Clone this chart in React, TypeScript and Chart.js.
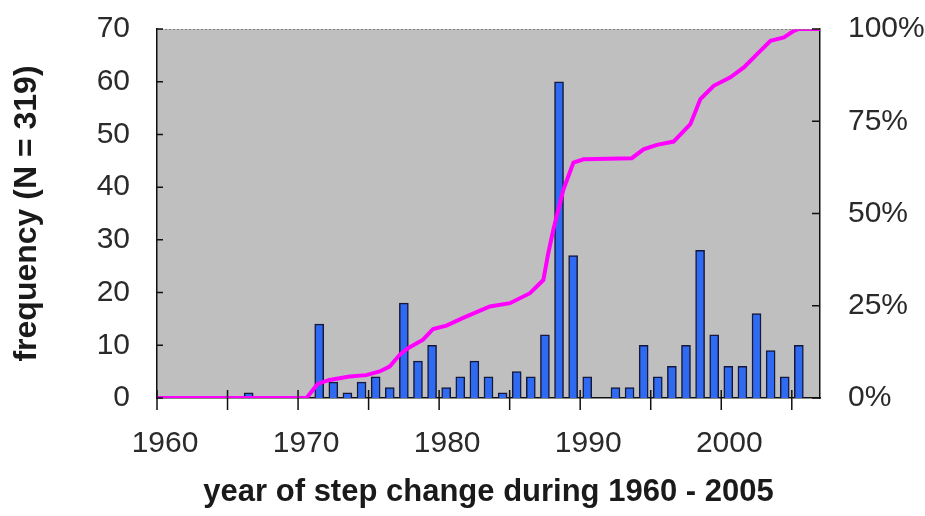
import React, { useEffect, useRef } from 'react';
import { Chart, registerables } from 'chart.js';

Chart.register(...registerables);

// Bar series: number of step changes per year
const years = [1966, 1971, 1972, 1973, 1974, 1975, 1976, 1977, 1978, 1979, 1980, 1981, 1982, 1983, 1984, 1985, 1986, 1987, 1988, 1989, 1990, 1992, 1993, 1994, 1995, 1996, 1997, 1998, 1999, 2000, 2001, 2002, 2003, 2004, 2005];
const counts = [1, 14, 3, 1, 3, 4, 2, 18, 7, 10, 2, 4, 7, 4, 1, 5, 4, 12, 60, 27, 4, 2, 2, 10, 4, 6, 10, 28, 12, 6, 6, 16, 9, 4, 10];

// Cumulative percentage line
const cumYears = [1960, 1970.6, 1971.39, 1972.22, 1973.65, 1974.83, 1975.78, 1976.49, 1977.2, 1977.79, 1978.86, 1979.57, 1980.52, 1981.7, 1983.6, 1985.02, 1986.44, 1987.39, 1987.74, 1988.1, 1988.45, 1988.81, 1989.16, 1989.52, 1990.23, 1993.66, 1994.49, 1995.44, 1996.62, 1997.81, 1998.52, 1999.46, 2000.65, 2001.6, 2002.54, 2003.49, 2004.44, 2005.15, 2005.5, 2007];
const cumPercent = [0, 0, 3.8, 4.9, 5.8, 6.2, 7.2, 8.5, 11.7, 13.5, 15.8, 18.7, 19.6, 21.7, 24.8, 25.7, 28.4, 32, 39.3, 45.7, 51, 56.5, 60.1, 63.8, 64.7, 65, 67.4, 68.6, 69.5, 74.2, 81, 84.6, 86.9, 89.6, 93.2, 96.8, 97.7, 99.5, 100, 100];

const xTicks = [1960, 1965, 1970, 1975, 1980, 1985, 1990, 1995, 2000, 2005];
const xLabels = [1960, 1970, 1980, 1990, 2000];
const freqTicks = [0, 10, 20, 30, 40, 50, 60, 70];
const pctTicks = [0, 25, 50, 75, 100];

const xTitle = 'year of step change during 1960 - 2005';
const yTitle = 'frequency (N = 319)';

const W = 925;
const H = 516;
const FONT = '"Liberation Sans", Arial, sans-serif';

const framePlugin = {
  id: 'frame',
  beforeDraw(chart: any) {
    const { ctx, chartArea } = chart;
    ctx.save();
    ctx.fillStyle = '#BFBFBF';
    ctx.fillRect(chartArea.left, chartArea.top, chartArea.right - chartArea.left, chartArea.bottom - chartArea.top);
    ctx.restore();
  },
  afterDraw(chart: any) {
    const { ctx, chartArea, scales } = chart;
    const { left, right, top, bottom } = chartArea;
    ctx.save();
    ctx.strokeStyle = '#8a8080';
    ctx.lineWidth = 1;
    ctx.setLineDash([2, 2]);
    ctx.beginPath();
    ctx.moveTo(left, top + 0.5);
    ctx.lineTo(right, top + 0.5);
    ctx.stroke();
    ctx.setLineDash([]);
    ctx.strokeStyle = '#111';
    ctx.lineWidth = 1.5;
    ctx.beginPath();
    for (const v of freqTicks) {
      const y = scales.y.getPixelForValue(v);
      ctx.moveTo(left, y);
      ctx.lineTo(left + 6, y);
    }
    for (const v of pctTicks) {
      const y = scales.y1.getPixelForValue(v);
      ctx.moveTo(right, y);
      ctx.lineTo(right - 8, y);
    }
    for (const v of xTicks) {
      const x = scales.x.getPixelForValue(v);
      ctx.moveTo(x, bottom - 8);
      ctx.lineTo(x, bottom + 12);
    }
    ctx.stroke();
    ctx.restore();
  },
};

const fitVertical = (width: number) => (s: any) => {
  s.width = width;
  s.paddingTop = 0;
  s.paddingBottom = 0;
};

export default function App() {
  const ref = useRef<HTMLCanvasElement | null>(null);

  useEffect(() => {
    if (!ref.current) return;
    const chart = new Chart(ref.current, {
      type: 'bar',
      data: {
        datasets: [
          {
            type: 'line',
            label: 'cumulative',
            data: cumYears.map((x, i) => ({ x, y: cumPercent[i] })),
            borderColor: '#FF00FF',
            borderWidth: 4,
            pointRadius: 0,
            tension: 0,
            fill: false,
            xAxisID: 'x',
            yAxisID: 'y1',
            order: 0,
          } as any,
          {
            type: 'bar',
            label: 'frequency',
            data: years.map((yr, i) => ({ x: yr + 0.5, y: counts[i] })),
            backgroundColor: '#2F6BF2',
            borderColor: '#15183a',
            borderWidth: 1.5,
            barThickness: 9,
            xAxisID: 'x',
            yAxisID: 'y',
            order: 1,
          } as any,
        ],
      },
      plugins: [framePlugin],
      options: {
        animation: false,
        responsive: false,
        maintainAspectRatio: false,
        layout: { padding: { top: 29, left: 0, right: 0, bottom: 0 } },
        plugins: { legend: { display: false }, tooltip: { enabled: false } },
        scales: {
          x: {
            type: 'linear',
            offset: false,
            min: 1960,
            max: 2007,
            afterBuildTicks: (s: any) => {
              s.ticks = xTicks.map((v) => ({ value: v }));
            },
            afterFit: (s: any) => {
              s.height = H - 398;
              s.paddingLeft = 0;
              s.paddingRight = 0;
            },
            grid: { display: false, drawTicks: false, offset: false },
            border: { display: true, color: '#111', width: 1.5 },
            ticks: {
              autoSkip: false,
              maxRotation: 0,
              padding: 28,
              labelOffset: 8,
              color: '#2a2a2a',
              font: { family: FONT, size: 30 },
              callback: (v: any) => (xLabels.includes(Number(v)) ? String(v) : ''),
            },
            title: {
              display: true,
              text: xTitle,
              color: '#1a1a1a',
              font: { family: FONT, size: 31, weight: 'bold' },
              padding: { top: 0, bottom: 5 },
            },
          },
          y: {
            type: 'linear',
            position: 'left',
            min: 0,
            max: 70,
            afterBuildTicks: (s: any) => {
              s.ticks = freqTicks.map((v) => ({ value: v }));
            },
            afterFit: fitVertical(157),
            grid: { display: false, drawTicks: false },
            border: { display: true, color: '#111', width: 1.5 },
            ticks: {
              padding: 27,
              color: '#2a2a2a',
              font: { family: FONT, size: 30 },
            },
            title: {
              display: true,
              text: yTitle,
              color: '#1a1a1a',
              font: { family: FONT, size: 32, weight: 'bold' },
              padding: { top: 8, bottom: 0 },
            },
          },
          y1: {
            type: 'linear',
            position: 'right',
            min: 0,
            max: 100,
            afterBuildTicks: (s: any) => {
              s.ticks = pctTicks.map((v) => ({ value: v }));
            },
            afterFit: fitVertical(W - 820),
            grid: { display: false, drawTicks: false },
            border: { display: true, color: '#111', width: 1.5 },
            ticks: {
              padding: 28,
              color: '#2a2a2a',
              font: { family: FONT, size: 30 },
              callback: (v: any) => `${v}%`,
            },
          },
        },
      },
    } as any);
    return () => chart.destroy();
  }, []);

  return (
    <div style={{ position: 'fixed', left: 0, top: 0, width: W, height: H, background: '#fff' }}>
      <canvas ref={ref} width={W} height={H} style={{ width: W, height: H, display: 'block' }} />
    </div>
  );
}
